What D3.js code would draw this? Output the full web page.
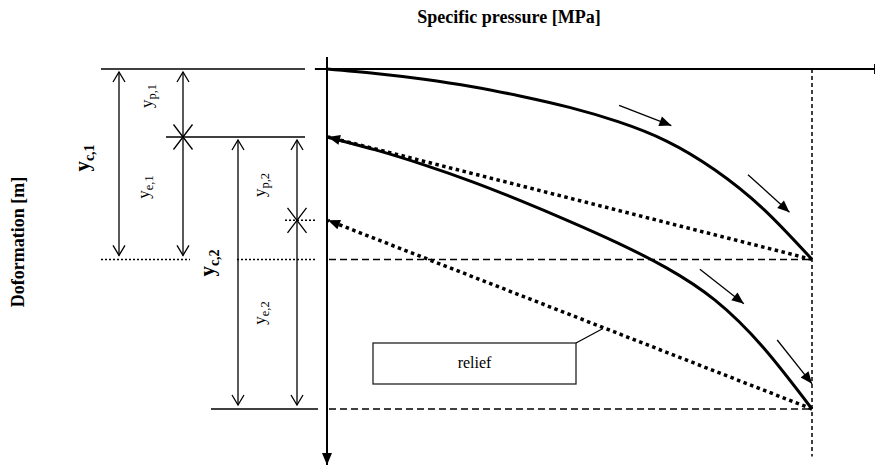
<!DOCTYPE html>
<html>
<head>
<meta charset="utf-8">
<script src="https://cdn.jsdelivr.net/npm/d3@7"></script>
<style>
  body { margin: 0; background: #fff; }
  text { font-family: "Liberation Serif", "Times New Roman", serif; fill: #000; }
</style>
</head>
<body>
<svg width="875" height="466"></svg>
<script>
// loading branches: specific pressure vs deformation (arbitrary units)
const load1P = [0, 1, 2, 3, 4, 5, 6, 7, 8, 9, 10];
const load1Y = [0, 0.13, 0.30, 0.52, 0.80, 1.13, 1.55, 2.12, 2.97, 4.12, 5.6];
const load2P = [0, 1, 2, 3, 4, 5, 6, 7, 8, 9, 10];
const load2Y = [2.0, 2.38, 2.82, 3.32, 3.88, 4.48, 5.12, 5.85, 6.8, 8.2, 10];

// relief (unloading) lines, from max pressure back to zero
const reliefFromP = [10, 10];
const reliefFromY = [5.6, 10];
const reliefToP = [0, 0];
const reliefToY = [2.0, 4.45];

// deformation levels used by the dimension lines
const yP1 = 2.0;   // permanent after 1st cycle
const yC1 = 5.6;   // total 1st cycle
const yP2 = 4.45;  // permanent after 2nd cycle
const yC2 = 10;    // total 2nd cycle
const pMax = 10;

// small direction arrows next to the loading curves
const dirCurve = [0, 0, 1, 1];
const dirAt = [6.45, 8.9, 7.95, 9.4];

const svg = d3.select('svg');
const x = d3.scaleLinear().domain([0, 10]).range([327, 812]);
const y = d3.scaleLinear().domain([0, 10]).range([69, 409]);

// markers
const defs = svg.append('defs');
defs.append('marker')
    .attr('id', 'open')
    .attr('viewBox', '-12 -8 14 16')
    .attr('markerUnits', 'userSpaceOnUse')
    .attr('markerWidth', 14).attr('markerHeight', 16)
    .attr('refX', 0).attr('refY', 0)
    .attr('orient', 'auto-start-reverse')
    .append('path')
    .attr('d', 'M-10,-6L0,0L-10,6')
    .attr('fill', 'none').attr('stroke', '#000').attr('stroke-width', 1.3);
defs.append('marker')
    .attr('id', 'solid')
    .attr('viewBox', '-13 -6 14 12')
    .attr('markerUnits', 'userSpaceOnUse')
    .attr('markerWidth', 14).attr('markerHeight', 12)
    .attr('refX', 0).attr('refY', 0)
    .attr('orient', 'auto')
    .append('path')
    .attr('d', 'M-12,-5L0,0L-12,5Z')
    .attr('fill', '#000');

// axes
const g = svg.append('g');
g.append('line')
    .attr('x1', x(-0.25)).attr('x2', x(11.3))
    .attr('y1', y(0)).attr('y2', y(0))
    .attr('stroke', '#000').attr('stroke-width', 2);
g.append('line')
    .attr('x1', x(11.3)).attr('x2', x(11.3))
    .attr('y1', y(0) - 5).attr('y2', y(0) + 5)
    .attr('stroke', '#000').attr('stroke-width', 2);
g.append('line')
    .attr('x1', x(0)).attr('x2', x(0))
    .attr('y1', y(-0.35)).attr('y2', y(11.65))
    .attr('stroke', '#000').attr('stroke-width', 2)
    .attr('marker-end', 'url(#solid)');

// dashed guides
[yC1, yC2].forEach(v => {
    g.append('line')
        .attr('x1', x(0) + 2).attr('x2', x(pMax))
        .attr('y1', y(v)).attr('y2', y(v))
        .attr('stroke', '#000').attr('stroke-width', 1.5)
        .attr('stroke-dasharray', '7,4');
});
g.append('line')
    .attr('x1', x(pMax)).attr('x2', x(pMax))
    .attr('y1', y(0)).attr('y2', y(11.4))
    .attr('stroke', '#000').attr('stroke-width', 1.5)
    .attr('stroke-dasharray', '4,3');

// loading curves
const line = d3.line()
    .x(d => x(d[0]))
    .y(d => y(d[1]))
    .curve(d3.curveNatural);

const curves = [d3.zip(load1P, load1Y), d3.zip(load2P, load2Y)];
const curvePaths = g.selectAll('path.load')
    .data(curves)
    .join('path')
    .attr('class', 'load')
    .attr('d', line)
    .attr('fill', 'none')
    .attr('stroke', '#000')
    .attr('stroke-width', 3);

// relief lines
g.selectAll('line.relief')
    .data(d3.range(reliefFromP.length))
    .join('line')
    .attr('class', 'relief')
    .attr('x1', i => x(reliefFromP[i])).attr('y1', i => y(reliefFromY[i]))
    .attr('x2', i => x(reliefToP[i]) + 1).attr('y2', i => y(reliefToY[i]))
    .attr('stroke', '#000').attr('stroke-width', 3.5)
    .attr('stroke-dasharray', '3.5,3.5')
    .attr('marker-end', 'url(#solid)');

// direction arrows along the curves
const nodes = curvePaths.nodes();
function lengthAtX(node, px) {
    let lo = 0, hi = node.getTotalLength();
    for (let k = 0; k < 40; k++) {
        const m = (lo + hi) / 2;
        if (node.getPointAtLength(m).x < px) lo = m; else hi = m;
    }
    return lo;
}
dirAt.forEach((p, i) => {
    const node = nodes[dirCurve[i]];
    const l = lengthAtX(node, x(p));
    const a = node.getPointAtLength(l - 3), b = node.getPointAtLength(l + 3);
    const c = node.getPointAtLength(l);
    let tx = b.x - a.x, ty = b.y - a.y;
    const n = Math.hypot(tx, ty); tx /= n; ty /= n;
    const off = 15, half = 28;
    const cx = c.x + ty * off, cy = c.y - tx * off;
    g.append('line')
        .attr('x1', cx - tx * half).attr('y1', cy - ty * half)
        .attr('x2', cx + tx * half).attr('y2', cy + ty * half)
        .attr('stroke', '#000').attr('stroke-width', 1.3)
        .attr('marker-end', 'url(#solid)');
});

// relief label box
g.append('rect')
    .attr('x', 373).attr('y', 343).attr('width', 203).attr('height', 41)
    .attr('fill', '#fff').attr('stroke', '#222').attr('stroke-width', 1.3);
g.append('text')
    .attr('x', 474.5).attr('y', 364)
    .attr('text-anchor', 'middle')
    .attr('dominant-baseline', 'middle')
    .style('font-size', '16px')
    .text('relief');
g.append('line')
    .attr('x1', 576).attr('y1', 343).attr('x2', 603).attr('y2', 328.5)
    .attr('stroke', '#000').attr('stroke-width', 1.2);

// left dimension lines
const dim = svg.append('g').attr('stroke', '#000');
const refs = [
    { v: 0, x1: 101, x2: 305, dash: null },
    { v: yP1, x1: 166, x2: 305, dash: null },
    { v: yC1, x1: 101, x2: 190, dash: '2,2' },
    { v: yC1, x1: 237, x2: 316, dash: '2,2' },
    { v: yP2, x1: 285, x2: 316, dash: '2,2' },
    { v: yC2, x1: 211, x2: 318, dash: null },
];
dim.selectAll('line.ref')
    .data(refs)
    .join('line')
    .attr('class', 'ref')
    .attr('x1', d => d.x1).attr('x2', d => d.x2)
    .attr('y1', d => y(d.v)).attr('y2', d => y(d.v))
    .attr('stroke-width', 1.5)
    .attr('stroke-dasharray', d => d.dash);

const arrows = [
    { px: 119, a: 0, b: yC1 },
    { px: 183, a: 0, b: yC1 },
    { px: 238, a: yP1, b: yC2 },
    { px: 297, a: yP1, b: yC2 },
];
dim.selectAll('line.dim')
    .data(arrows)
    .join('line')
    .attr('class', 'dim')
    .attr('x1', d => d.px).attr('x2', d => d.px)
    .attr('y1', d => y(d.a) + 3).attr('y2', d => y(d.b) - 4)
    .attr('stroke-width', 1.3)
    .attr('marker-start', 'url(#open)')
    .attr('marker-end', 'url(#open)');

// crosses at the permanent deformation points
[[183, yP1], [297, yP2]].forEach(([px, v]) => {
    const cy = y(v);
    dim.append('path')
        .attr('d', `M${px - 9.5},${cy - 12.5}L${px + 9.5},${cy + 12.5}M${px - 9.5},${cy + 12.5}L${px + 9.5},${cy - 12.5}`)
        .attr('fill', 'none').attr('stroke-width', 1.3);
});

// rotated labels with subscripts
function vlabel(cx, cy, main, sub, bold) {
    const t = svg.append('text')
        .attr('transform', `translate(${cx},${cy}) rotate(-90)`)
        .attr('text-anchor', 'middle')
        .attr('dy', '0.3em')
        .style('font-size', bold ? '21px' : '17px')
        .style('font-weight', bold ? 'bold' : 'normal');
    t.append('tspan').text(main);
    if (sub) {
        t.append('tspan')
            .attr('dy', bold ? 5 : 4)
            .style('font-size', bold ? '14px' : '12.5px')
            .text(sub);
    }
}
vlabel(83, 158, 'y', 'c,1', true);
vlabel(147, 96, 'y', 'p,1', false);
vlabel(144, 187, 'y', 'e,1', false);
vlabel(208, 263, 'y', 'c,2', true);
vlabel(260, 185, 'y', 'p,2', false);
vlabel(260, 313, 'y', 'e,2', false);

// axis titles
svg.append('text')
    .attr('x', 509).attr('y', 23)
    .attr('text-anchor', 'middle')
    .style('font-size', '18px').style('font-weight', 'bold')
    .text('Specific pressure [MPa]');
svg.append('text')
    .attr('transform', 'translate(18,242) rotate(-90)')
    .attr('text-anchor', 'middle')
    .attr('dy', '0.35em')
    .style('font-size', '18px').style('font-weight', 'bold')
    .text('Doformation [m]');
</script>
</body>
</html>
